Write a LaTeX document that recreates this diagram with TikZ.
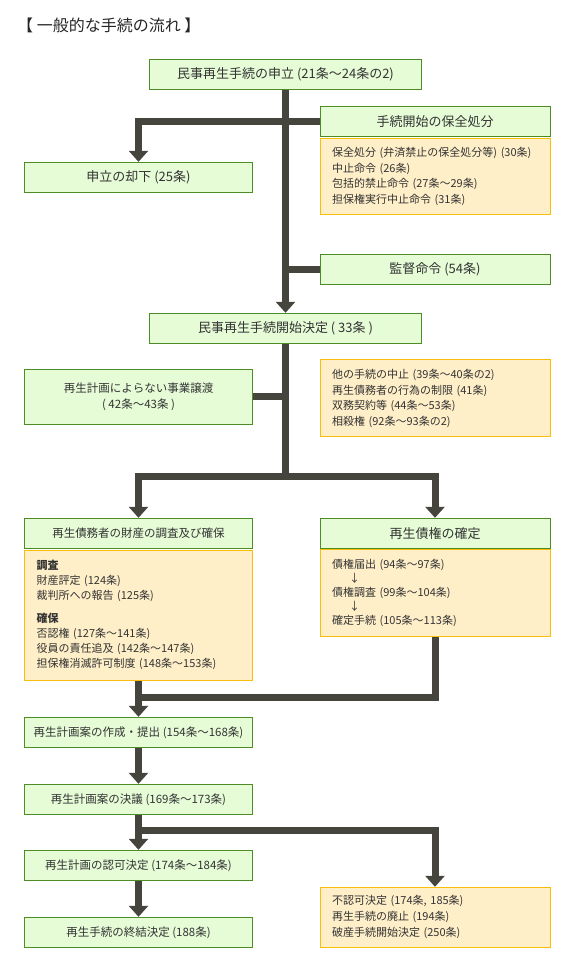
\documentclass[tikz,border=0pt]{standalone}
\usepackage{fontspec}
\setmainfont{Noto Sans CJK JP}
\usetikzlibrary{arrows.meta}
\definecolor{gfill}{HTML}{E6FCD7}
\definecolor{gline}{HTML}{4E8C26}
\definecolor{yfill}{HTML}{FFEFC9}
\definecolor{yline}{HTML}{F9BE0A}
\definecolor{barcol}{HTML}{45453D}
\definecolor{txt}{HTML}{333333}
\begin{document}
\begin{tikzpicture}[x=1pt,y=-1pt,
gbox/.style={draw=gline,fill=gfill,line width=1pt,inner sep=0pt,minimum width=230pt,minimum height=30pt,text=txt,align=center,font=\fontsize{13}{16}\selectfont},
lbox/.style={gbox,minimum width=228pt,font=\fontsize{11.5}{16.7}\selectfont},
ybox/.style={draw=yline,fill=yfill,line width=1pt,inner xsep=12pt,inner ysep=0pt,text width=206pt,text=txt,align=left,font=\fontsize{11}{15.7}\selectfont},
bar/.style={draw=barcol,line width=7pt},
arr/.style={bar,-{Triangle[width=19pt,length=11pt]}}]
\useasboundingbox (0,0) rectangle (571,972);
\node[anchor=west,inner sep=0pt,text=black!85,font=\fontsize{16}{19}\selectfont] (0) at (17,25.5) {【 一般的な手続の流れ 】};
\node[gbox,minimum width=272pt] (1) at (285.5,74.7) {民事再生手続の申立 (21条～24条の2)};
\node[gbox] (2) at (435,121.7) {手続開始の保全処分};
\node[ybox,minimum height=76pt] (3) at (435,176.3) {保全処分 (弁済禁止の保全処分等) (30条)\\中止命令 (26条)\\包括的禁止命令 (27条～29条)\\担保権実行中止命令 (31条)};
\node[lbox,font=\fontsize{13}{16}\selectfont] (4) at (138.5,177.3) {申立の却下 (25条)};
\node[gbox] (5) at (435,269.3) {監督命令 (54条)};
\node[gbox,minimum width=272pt] (6) at (285.5,328.3) {民事再生手続開始決定 ( 33条 )};
\node[lbox,minimum height=55pt] (7) at (138.5,396.8) {再生計画によらない事業譲渡\\( 42条～43条 )};
\node[ybox,minimum height=76.7pt] (8) at (435,398.3) {他の手続の中止 (39条～40条の2)\\再生債務者の行為の制限 (41条)\\双務契約等 (44条～53条)\\相殺権 (92条～93条の2)};
\node[lbox] (9) at (138.5,533.3) {再生債務者の財産の調査及び確保};
\node[ybox,text width=204pt,minimum height=130.3pt,font=\fontsize{11}{15}\selectfont] (10) at (138.5,615.2) {{\bfseries 調査}\\財産評定 (124条)\\裁判所への報告 (125条)\\[8pt]{\bfseries 確保}\\否認権 (127条～141条)\\役員の責任追及 (142条～147条)\\担保権消滅許可制度 (148条～153条)};
\node[gbox] (11) at (435,533.3) {再生債権の確定};
\node[ybox,minimum height=86.7pt,font=\fontsize{11}{14}\selectfont] (12) at (435,593.3) {債権届出 (94条～97条)\\\hspace*{17pt}↓\\債権調査 (99条～104条)\\\hspace*{17pt}↓\\確定手続 (105条～113条)};
\node[lbox] (13) at (138.5,732.3) {再生計画案の作成・提出 (154条～168条)};
\node[lbox] (14) at (138.5,799.3) {再生計画案の決議 (169条～173条)};
\node[lbox] (15) at (138.5,865.3) {再生計画の認可決定 (174条～184条)};
\node[lbox] (16) at (138.5,932.3) {再生手続の終結決定 (188条)};
\node[ybox,minimum height=60pt,font=\fontsize{11}{16}\selectfont] (17) at (435,917.3) {不認可決定 (174条, 185条)\\再生手続の廃止 (194条)\\破産手続開始決定 (250条)};
\coordinate (a) at (285.5,476);
\coordinate (b) at (138.5,697);
\coordinate (c) at (138.5,830.7);
\path[arr] (1) -- (6);
\path[arr] (2.west) -| (4);
\path[bar] (5) -- (5 -| 1);
\path[bar] (7) -- (7 -| 6);
\path[bar] (6) -- (a);
\path[arr] (a) -| (9);
\path[arr] (a) -| (11);
\path[arr] (10) -- (13);
\path[bar] (12) |- (b);
\path[arr] (13) -- (14);
\path[arr] (14) -- (15);
\path[arr] (15) -- (16);
\path[arr] (c) -| (17);
\end{tikzpicture}
\end{document}
